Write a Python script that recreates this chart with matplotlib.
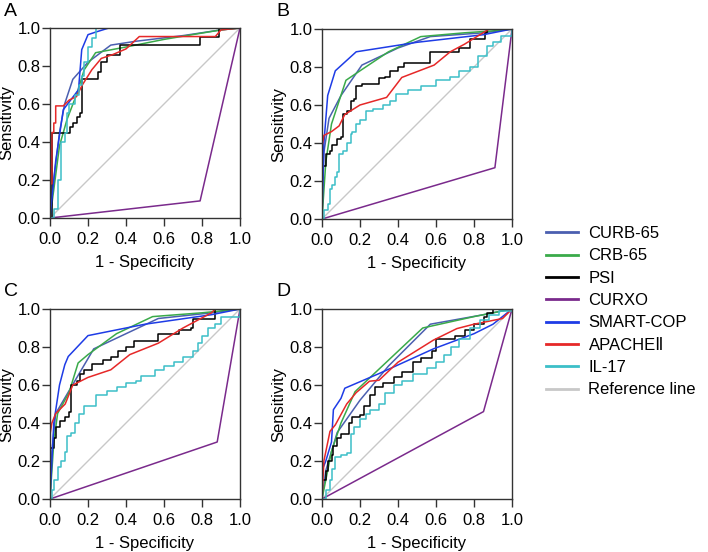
import matplotlib
matplotlib.use("Agg")
import matplotlib.pyplot as plt

plt.rcParams['font.family'] = ['Liberation Sans', 'DejaVu Sans']

names = ["CURB-65", "CRB-65", "PSI", "CURXO", "SMART-COP", "APACHEⅡ", "IL-17"]
colors = ["#4b5fb0", "#3aaa4a", "#000000", "#7a2a8c", "#1e3ce6", "#e62828", "#3cbfc8"]
step_names = ["PSI", "IL-17"]
ticks = [0.0, 0.2, 0.4, 0.6, 0.8, 1.0]
tick_labels = ["0.0", "0.2", "0.4", "0.6", "0.8", "1.0"]

# ---- panel A ----
A_CURB65 = [(0, 0), (0.02, 0.2), (0.05, 0.45), (0.077, 0.6), (0.12, 0.73), (0.2, 0.82), (0.32, 0.91),
            (0.45, 0.93), (0.7, 0.96), (0.9, 0.99), (1, 1)]
A_CRB65 = [(0, 0), (0.02, 0.15), (0.05, 0.38), (0.09, 0.52), (0.14, 0.65), (0.18, 0.78), (0.24, 0.87),
           (0.4, 0.9), (0.6, 0.94), (0.9, 0.99), (1, 1)]
A_PSI = [(0, 0), (0.01, 0.18), (0.01, 0.45), (0.105, 0.45), (0.105, 0.48), (0.12, 0.48), (0.12, 0.5),
         (0.14, 0.5), (0.14, 0.53), (0.16, 0.53), (0.16, 0.55), (0.17, 0.55), (0.17, 0.73), (0.25, 0.73),
         (0.25, 0.77), (0.27, 0.77), (0.27, 0.82), (0.3, 0.82), (0.3, 0.86), (0.37, 0.86), (0.37, 0.91),
         (0.79, 0.91), (0.79, 0.955), (0.89, 0.955), (0.89, 1.0), (1, 1)]
A_CURXO = [(0, 0), (0.79, 0.09), (1, 1)]
A_SMART = [(0, 0), (0.03, 0.3), (0.07, 0.57), (0.15, 0.675), (0.167, 0.886), (0.2, 0.965), (0.245, 0.98),
           (0.31, 1.0), (1, 1)]
A_APACHE = [(0, 0), (0, 0.18), (0.01, 0.18), (0.01, 0.45), (0.02, 0.45), (0.02, 0.5), (0.03, 0.5),
            (0.03, 0.59), (0.07, 0.59), (0.1, 0.62), (0.14, 0.64), (0.17, 0.7), (0.22, 0.78), (0.27, 0.84),
            (0.33, 0.86), (0.4, 0.89), (0.47, 0.955), (0.87, 0.955), (0.9, 0.99), (1, 1)]
A_IL17 = [(0, 0), (0.02, 0.05), (0.04, 0.2), (0.06, 0.3), (0.06, 0.4), (0.08, 0.45), (0.09, 0.55),
          (0.1, 0.6), (0.13, 0.65), (0.15, 0.7), (0.17, 0.75), (0.18, 0.82), (0.2, 0.9), (0.22, 0.95),
          (0.244, 1.0), (1, 1)]

# ---- panel B ----
B_CURB65 = [(0, 0), (0.01, 0.35), (0.037, 0.53), (0.1, 0.65), (0.21, 0.81), (0.4, 0.9), (0.57, 0.96),
            (0.85, 0.98), (1, 1)]
B_CRB65 = [(0, 0), (0.02, 0.3), (0.05, 0.5), (0.126, 0.73), (0.2, 0.78), (0.35, 0.88), (0.52, 0.96),
           (0.75, 0.98), (0.9, 0.99), (1, 1)]
B_PSI = [(0, 0), (0, 0.28), (0.02, 0.3), (0.02, 0.34), (0.04, 0.36), (0.05, 0.39), (0.07, 0.39),
         (0.08, 0.42), (0.1, 0.43), (0.11, 0.45), (0.11, 0.55), (0.13, 0.57), (0.15, 0.58), (0.15, 0.62),
         (0.17, 0.63), (0.18, 0.7), (0.21, 0.71), (0.28, 0.71), (0.3, 0.74), (0.33, 0.75), (0.36, 0.78),
         (0.4, 0.8), (0.43, 0.82), (0.57, 0.82), (0.57, 0.88), (0.7, 0.88), (0.72, 0.9), (0.78, 0.9),
         (0.78, 0.95), (0.83, 0.95), (0.86, 0.98), (0.87, 1.0), (1, 1)]
B_CURXO = [(0, 0), (0.91, 0.27), (1, 1)]
B_SMART = [(0, 0), (0.01, 0.4), (0.03, 0.65), (0.07, 0.78), (0.18, 0.88), (0.5, 0.93), (0.85, 0.97), (1, 1)]
B_APACHE = [(0, 0), (0, 0.38), (0.01, 0.44), (0.05, 0.46), (0.09, 0.49), (0.12, 0.55), (0.2, 0.6),
            (0.34, 0.64), (0.42, 0.745), (0.59, 0.81), (0.675, 0.88), (0.75, 0.92), (0.88, 1.0), (1, 1)]
B_IL17 = [(0, 0), (0.01, 0.05), (0.03, 0.08), (0.04, 0.16), (0.055, 0.18), (0.07, 0.22), (0.08, 0.25),
          (0.09, 0.34), (0.11, 0.36), (0.13, 0.4), (0.15, 0.45), (0.16, 0.46), (0.18, 0.5), (0.2, 0.52),
          (0.23, 0.57), (0.27, 0.58), (0.32, 0.6), (0.36, 0.62), (0.39, 0.66), (0.45, 0.68), (0.52, 0.7),
          (0.6, 0.73), (0.675, 0.745), (0.72, 0.78), (0.78, 0.8), (0.82, 0.86), (0.87, 0.91), (0.9, 0.93),
          (0.94, 0.965), (1, 0.98), (1, 1)]

# ---- panel C ----
C_CURB65 = [(0, 0), (0.01, 0.25), (0.03, 0.45), (0.13, 0.62), (0.23, 0.79), (0.4, 0.87), (0.57, 0.95),
            (0.85, 0.98), (1, 1)]
C_CRB65 = [(0, 0), (0.02, 0.3), (0.04, 0.45), (0.1, 0.56), (0.148, 0.716), (0.2, 0.76), (0.35, 0.87),
           (0.54, 0.96), (0.8, 0.98), (1, 1)]
C_PSI = [(0, 0), (0, 0.27), (0.02, 0.32), (0.03, 0.38), (0.05, 0.41), (0.08, 0.43), (0.1, 0.46),
         (0.11, 0.6), (0.14, 0.62), (0.16, 0.66), (0.18, 0.68), (0.22, 0.71), (0.28, 0.73), (0.32, 0.75),
         (0.36, 0.78), (0.4, 0.8), (0.44, 0.83), (0.55, 0.83), (0.57, 0.87), (0.65, 0.87), (0.68, 0.89),
         (0.74, 0.9), (0.75, 0.95), (0.85, 0.95), (0.87, 1), (1, 1)]
C_CURXO = [(0, 0), (0.88, 0.3), (1, 1)]
C_SMART = [(0, 0), (0.02, 0.4), (0.05, 0.6), (0.078, 0.707), (0.096, 0.75), (0.2, 0.86), (0.5, 0.92),
           (0.85, 0.97), (1, 1)]
C_APACHE = [(0, 0), (0, 0.34), (0.01, 0.4), (0.03, 0.45), (0.08, 0.5), (0.1, 0.55), (0.12, 0.6),
            (0.2, 0.64), (0.32, 0.68), (0.42, 0.76), (0.57, 0.82), (0.7, 0.9), (0.85, 0.98), (0.87, 1), (1, 1)]
C_IL17 = [(0, 0), (0.01, 0.05), (0.02, 0.1), (0.04, 0.17), (0.06, 0.2), (0.08, 0.25), (0.09, 0.33),
          (0.11, 0.35), (0.13, 0.4), (0.15, 0.45), (0.18, 0.49), (0.24, 0.5), (0.24, 0.55), (0.3, 0.57),
          (0.35, 0.59), (0.4, 0.61), (0.45, 0.62), (0.48, 0.65), (0.55, 0.68), (0.6, 0.7), (0.65, 0.72),
          (0.7, 0.75), (0.75, 0.78), (0.78, 0.82), (0.8, 0.86), (0.83, 0.9), (0.87, 0.92), (0.9, 0.96),
          (1, 0.98), (1, 1)]

# ---- panel D ----
D_CURB65 = [(0, 0), (0.02, 0.15), (0.08, 0.35), (0.2, 0.52), (0.35, 0.7), (0.57, 0.92), (0.85, 0.97), (1, 1)]
D_CRB65 = [(0, 0), (0.05, 0.25), (0.1, 0.4), (0.174, 0.565), (0.53, 0.9), (0.8, 0.96), (1, 1)]
D_PSI = [(0, 0), (0, 0.1), (0.02, 0.15), (0.03, 0.2), (0.05, 0.23), (0.06, 0.28), (0.08, 0.32),
         (0.1, 0.34), (0.14, 0.34), (0.14, 0.4), (0.16, 0.43), (0.2, 0.44), (0.22, 0.49), (0.25, 0.55),
         (0.28, 0.59), (0.32, 0.61), (0.38, 0.64), (0.42, 0.67), (0.48, 0.72), (0.52, 0.74), (0.58, 0.78),
         (0.6, 0.84), (0.7, 0.86), (0.75, 0.89), (0.8, 0.92), (0.85, 0.96), (0.87, 0.98), (0.9, 1.0), (1, 1)]
D_CURXO = [(0, 0), (0.85, 0.46), (1, 1)]
D_SMART = [(0, 0), (0, 0.15), (0.02, 0.2), (0.05, 0.3), (0.06, 0.47), (0.1, 0.53), (0.12, 0.583),
           (0.3, 0.66), (0.586, 0.79), (0.8, 0.87), (0.9, 0.92), (1, 1)]
D_APACHE = [(0, 0), (0.01, 0.2), (0.042, 0.356), (0.07, 0.39), (0.13, 0.5), (0.18, 0.56), (0.25, 0.62),
            (0.3, 0.625), (0.4, 0.72), (0.586, 0.836), (0.71, 0.897), (0.8, 0.92), (0.95, 0.95), (1, 1)]
D_IL17 = [(0, 0), (0.02, 0.05), (0.04, 0.1), (0.05, 0.16), (0.07, 0.22), (0.1, 0.23), (0.13, 0.24),
          (0.15, 0.34), (0.17, 0.38), (0.2, 0.42), (0.23, 0.45), (0.25, 0.47), (0.3, 0.5), (0.33, 0.56),
          (0.38, 0.6), (0.42, 0.62), (0.48, 0.66), (0.55, 0.69), (0.6, 0.72), (0.64, 0.76), (0.68, 0.8),
          (0.72, 0.84), (0.78, 0.9), (0.83, 0.94), (0.88, 0.97), (0.93, 0.99), (1, 1)]

panels = {
    "A": [A_CURB65, A_CRB65, A_PSI, A_CURXO, A_SMART, A_APACHE, A_IL17],
    "B": [B_CURB65, B_CRB65, B_PSI, B_CURXO, B_SMART, B_APACHE, B_IL17],
    "C": [C_CURB65, C_CRB65, C_PSI, C_CURXO, C_SMART, C_APACHE, C_IL17],
    "D": [D_CURB65, D_CRB65, D_PSI, D_CURXO, D_SMART, D_APACHE, D_IL17],
}

W, H = 708, 552
fig = plt.figure(figsize=(W / 100, H / 100), dpi=100)

# axes boxes in pixels: left, top (square, 190 px)
boxes = {"A": (50, 28), "B": (322, 29), "C": (50, 309), "D": (322, 309)}
size = 190

for key, (px, py) in boxes.items():
    ax = fig.add_axes([px / W, 1 - (py + size) / H, size / W, size / H])
    ax.plot([0, 1], [0, 1], color="#c8c8c8", lw=1.0, label="Reference line", zorder=1)
    for name, col, pts in zip(names, colors, panels[key]):
        xs = [p[0] for p in pts]
        ys = [p[1] for p in pts]
        ds = "steps-post" if name in step_names else "default"
        ax.plot(xs, ys, color=col, lw=1.1, drawstyle=ds, label=name, zorder=2)
    ax.set_xlim(0, 1)
    ax.set_ylim(0, 1)
    ax.set_xticks(ticks)
    ax.set_yticks(ticks)
    ax.set_xticklabels(tick_labels)
    ax.set_yticklabels(tick_labels)
    ax.tick_params(labelsize=12, length=6, width=1, color="#333333")
    ax.tick_params(axis="x", pad=4)
    ax.tick_params(axis="y", pad=1)
    for s in ax.spines.values():
        s.set_linewidth(1.0)
        s.set_color("#333333")
    ax.set_xlabel("1 - Specificity", fontsize=12, labelpad=6)
    ax.set_ylabel("Sensitivity", fontsize=12, labelpad=2)
    fig.text((px - 46) / W, 1 - (py - 17) / H, key, fontsize=14, ha="left", va="center")

handles, labels = ax.get_legend_handles_labels()
order = list(range(1, 8)) + [0]
leg = fig.legend([handles[i] for i in order], [labels[i] for i in order],
                 loc="upper left", bbox_to_anchor=(546 / W, 1 - 226 / H), frameon=False,
                 fontsize=12, handlelength=1.9, handletextpad=0.65, labelspacing=0.44,
                 borderaxespad=0, borderpad=0)
for ln in leg.get_lines():
    ln.set_linewidth(2.0)

fig.savefig("out.png", dpi=100)
